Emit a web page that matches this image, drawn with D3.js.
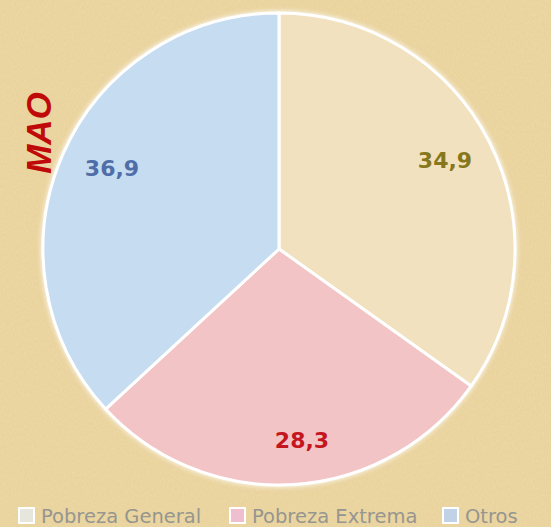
<!DOCTYPE html>
<html><head><meta charset="utf-8">
<script src="https://cdn.jsdelivr.net/npm/d3@7"></script>
<style>html,body{margin:0;padding:0;background:#efd9a4;}svg{display:block;}</style>
</head><body>
<svg id="c" width="551" height="527"></svg>
<script>
const categories = ["Pobreza General", "Pobreza Extrema", "Otros"];
const values = [34.9, 28.3, 36.9];
const labels = ["34,9", "28,3", "36,9"];
const title = "MAO";

const fills = ["#f2e1bf", "#f3c4c5", "#c6dcf1"];
const labelColors = ["#86771c", "#c4161f", "#4f6ea8"];
const legendSwatch = ["#e6e6dc", "#efbfd0", "#c2d2e6"];

const svg = d3.select("#c");
const W = 551, H = 527;

const defs = svg.append("defs");
const f = defs.append("filter").attr("id","tex").attr("x",0).attr("y",0).attr("width","100%").attr("height","100%");
f.append("feTurbulence").attr("type","fractalNoise").attr("baseFrequency","0.9 0.35").attr("numOctaves",2).attr("seed",3).attr("result","n");
f.append("feColorMatrix").attr("in","n").attr("type","matrix")
  .attr("values","0 0 0 0 0.55  0 0 0 0 0.42  0 0 0 0 0.2  0 0 0 0.22 0").attr("result","c");
f.append("feComposite").attr("in","c").attr("in2","SourceGraphic").attr("operator","in");
const sh = defs.append("filter").attr("id","sh").attr("x","-10%").attr("y","-10%").attr("width","120%").attr("height","120%");
sh.append("feGaussianBlur").attr("in","SourceGraphic").attr("stdDeviation",2.5);

svg.append("rect").attr("width",W).attr("height",H).attr("fill","#efd9a4");
svg.append("rect").attr("width",W).attr("height",H).attr("fill","#efd9a4").attr("filter","url(#tex)");

const cx = 279, cy = 249, R = 236;
const g = svg.append("g").attr("transform",`translate(${cx},${cy})`);

const pie = d3.pie().sort(null).value(d => d);
const arcs = pie(values);
const arc = d3.arc().innerRadius(0).outerRadius(R);

g.append("circle").attr("r",R+2).attr("fill","#ffffff").attr("opacity",0.85).attr("filter","url(#sh)");
g.selectAll("path.s").data(arcs).join("path").attr("class","s")
  .attr("d",arc).attr("fill",(d,i)=>fills[i])
  .attr("stroke","#ffffff").attr("stroke-width",3).attr("stroke-linejoin","round");

const labelOffsets = [[166,-89],[23,191],[-167,-81]];
g.selectAll("text.l").data(arcs).join("text").attr("class","l")
  .attr("transform",(d,i)=>`translate(${labelOffsets[i][0]},${labelOffsets[i][1]})`)
  .attr("text-anchor","middle").attr("dominant-baseline","central")
  .attr("font-family","Verdana, 'DejaVu Sans', sans-serif").attr("font-weight","bold")
  .attr("font-size",22).attr("fill",(d,i)=>labelColors[i]).text((d,i)=>labels[i]);

svg.append("text").attr("transform","translate(38,133) rotate(-90)")
  .attr("text-anchor","middle").attr("dominant-baseline","central")
  .attr("font-family","'Liberation Sans', Arial, sans-serif").attr("font-weight","bold").attr("font-style","italic")
  .attr("font-size",35).attr("fill","#c00a0a").text(title);

const lg = svg.append("g").attr("transform","translate(0,516)");
const legX = [19, 230, 443];
categories.forEach((c,i)=>{
  lg.append("rect").attr("x",legX[i]).attr("y",-8).attr("width",15).attr("height",15)
    .attr("fill",legendSwatch[i]).attr("stroke","#ffffff").attr("stroke-width",2);
  lg.append("text").attr("x",legX[i]+22).attr("y",0).attr("dominant-baseline","central")
    .attr("font-family","'DejaVu Sans', Verdana, sans-serif").attr("font-size",19.5)
    .attr("fill","#969690").text(c);
});
</script>
</body></html>
